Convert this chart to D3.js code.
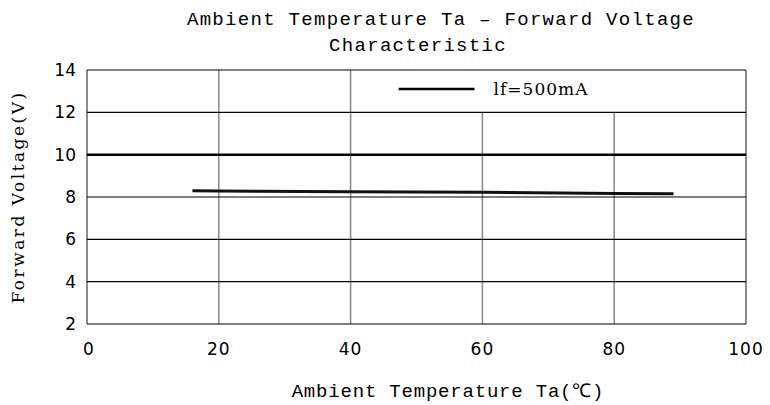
<!DOCTYPE html>
<html>
<head>
<meta charset="utf-8">
<script src="https://cdn.jsdelivr.net/npm/d3@7/dist/d3.min.js"></script>
<style>
  body { margin: 0; background: #fff; }
  svg { display: block; }
</style>
</head>
<body>
<svg id="chart" width="770" height="405"></svg>
<script>
// === data ===
const temps = [16, 20, 40, 60, 80, 89];
const voltages = [8.29, 8.28, 8.25, 8.22, 8.16, 8.15];
const xTicks = [0, 20, 40, 60, 80, 100];
const yTicks = [2, 4, 6, 8, 10, 12, 14];
const legendLabel = "lf=500mA";

const svg = d3.select("#chart");
const margin = { top: 70, right: 24, bottom: 81, left: 87 };
const width = +svg.attr("width");
const height = +svg.attr("height");
const innerWidth = width - margin.left - margin.right;
const innerHeight = height - margin.top - margin.bottom;

const x = d3.scaleLinear().domain([0, 100]).range([0, innerWidth]);
const y = d3.scaleLinear().domain([2, 14]).range([innerHeight, 0]);

const g = svg.append("g").attr("transform", `translate(${margin.left},${margin.top})`);

const monoFont = "'Liberation Mono', 'DejaVu Sans Mono', monospace";
const serifFont = "'DejaVu Serif', serif";
const sansFont = "'DejaVu Sans', Verdana, sans-serif";

// vertical grid (gray) - 60 and 80 stop under the legend box
g.selectAll(".vgrid")
  .data(xTicks)
  .enter()
  .append("line")
  .attr("class", "vgrid")
  .attr("x1", d => x(d)).attr("x2", d => x(d))
  .attr("y1", d => (d >= 60 && d < 100) ? y(12) : 0)
  .attr("y2", innerHeight)
  .attr("stroke", d => (d === 0 || d === 100) ? "#666" : "#888")
  .attr("stroke-width", 1.5);

// horizontal grid (black, 10 thicker)
g.selectAll(".hgrid")
  .data(yTicks)
  .enter()
  .append("line")
  .attr("class", "hgrid")
  .attr("x1", 0).attr("x2", innerWidth)
  .attr("y1", d => y(d)).attr("y2", d => y(d))
  .attr("stroke", "#000")
  .attr("stroke-width", d => d === 10 ? 2.5 : 1.2);

// y tick labels
g.selectAll(".ylab")
  .data(yTicks)
  .enter()
  .append("text")
  .attr("x", -11)
  .attr("y", d => y(d) + 6)
  .attr("text-anchor", "end")
  .attr("font-family", sansFont)
  .attr("font-size", 17)
  .text(d => d);

// x tick labels
g.selectAll(".xlab")
  .data(xTicks)
  .enter()
  .append("text")
  .attr("x", d => x(d) + (d === 0 ? 2 : 0))
  .attr("y", innerHeight + 31)
  .attr("text-anchor", "middle")
  .attr("font-family", sansFont)
  .attr("font-size", 17)
  .attr("letter-spacing", 1)
  .text(d => d);

// data line
const line = d3.line()
  .x((d, i) => x(temps[i]))
  .y(d => y(d));

g.append("path")
  .datum(voltages)
  .attr("d", line)
  .attr("fill", "none")
  .attr("stroke", "#111")
  .attr("stroke-width", 3);

// legend
g.append("line")
  .attr("x1", x(47.3)).attr("x2", x(58.8))
  .attr("y1", 19).attr("y2", 19)
  .attr("stroke", "#000")
  .attr("stroke-width", 2.5);

g.append("text")
  .attr("x", x(61.7))
  .attr("y", 25)
  .attr("font-family", serifFont)
  .attr("font-size", 17)
  .attr("letter-spacing", 1)
  .text(legendLabel);

// titles
svg.append("text")
  .attr("x", 441)
  .attr("y", 25)
  .attr("text-anchor", "middle")
  .attr("font-family", monoFont)
  .attr("font-size", 19)
  .attr("letter-spacing", 1.3)
  .text("Ambient Temperature Ta \u2013 Forward Voltage");

svg.append("text")
  .attr("x", 418)
  .attr("y", 51)
  .attr("text-anchor", "middle")
  .attr("font-family", monoFont)
  .attr("font-size", 19)
  .attr("letter-spacing", 1.3)
  .text("Characteristic");

svg.append("text")
  .attr("x", 448)
  .attr("y", 397)
  .attr("text-anchor", "middle")
  .attr("font-family", monoFont)
  .attr("font-size", 19)
  .attr("letter-spacing", 0.8)
  .text("Ambient Temperature Ta(\u2103)");

svg.append("text")
  .attr("transform", "translate(24,197) rotate(-90)")
  .attr("text-anchor", "middle")
  .attr("font-family", serifFont)
  .attr("font-size", 17)
  .attr("letter-spacing", 2.5)
  .text("Forward Voltage(V)");
</script>
</body>
</html>
